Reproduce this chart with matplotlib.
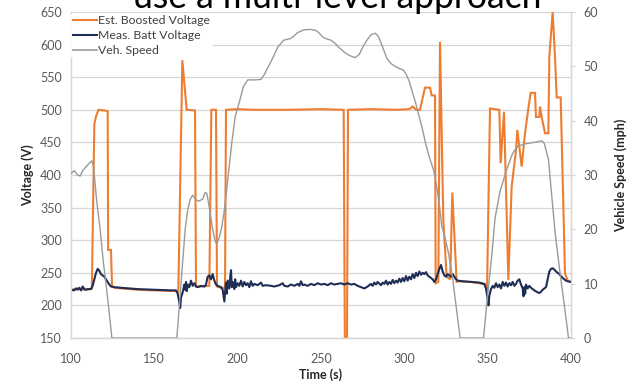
import matplotlib
matplotlib.use("Agg")
import matplotlib.pyplot as plt
from matplotlib.lines import Line2D

plt.rcParams['font.family'] = ['Lato', 'DejaVu Sans']

# ---------------- data ----------------
boost_t = [100, 104, 108, 111.5, 112.5, 114, 115, 116.5, 120, 122, 122.3, 124, 124.6, 126, 140, 150, 163,
           164.4, 166.8, 169.4, 174.4, 175, 178, 183, 184.2, 187, 187.6, 190, 192.4, 193, 200, 210, 230,
           250, 263.6, 264.3, 265.6, 266.2, 280, 295, 303, 305, 307, 309.4, 312.4, 315.4, 316.4, 318.4,
           318.8, 320.4, 321.4, 323.4, 325.4, 327.5, 328.8, 331.4, 333, 340, 345, 348.5, 349.6, 351.4,
           357, 357.8, 359.8, 362.4, 364.4, 367, 367.8, 370.4, 372.4, 374.4, 375.8, 378.4, 379, 381,
           381.4, 382.4, 384.4, 386.4, 387, 389, 390.4, 391.4, 393.8, 396.4, 398, 400]
boost_v = [224, 226, 224, 225, 226, 478, 490, 500, 499, 498, 285, 285, 230, 227, 224, 223, 222,
           221, 576, 500, 499, 229, 229, 230, 500, 500, 229, 227, 227, 500, 501, 500, 500,
           501, 500, 150, 150, 500, 501, 500, 501, 505, 500, 500, 534, 534, 522, 522,
           234, 236, 604, 330, 244, 240, 373, 236, 237, 236, 234, 232, 222, 502,
           500, 418, 497, 239, 382, 438, 469, 413, 464, 502, 526, 526, 489, 489,
           505, 489, 464, 464, 582, 650, 582, 519, 519, 249, 238, 236]

batt_t = [100, 102, 103, 104, 105, 106, 107, 108, 109, 110, 112, 113, 114, 115, 116, 117, 118, 119, 120,
          121, 122, 123, 124, 126, 130, 140, 150, 160, 163, 164, 165, 165.5, 166, 167, 168, 168.5, 169,
          169.5, 170, 171, 172, 173, 174, 175, 176, 178, 180, 181, 182, 183, 184, 185, 186, 187, 188,
          189, 190, 191, 191.5, 192, 192.5, 193, 193.5, 194, 195, 195.5, 196, 196.5, 197, 198, 198.5,
          199, 200, 201, 202, 203, 204, 205, 206, 207, 208, 209, 210, 212, 214, 215, 217, 220, 222,
          225, 227, 228, 230, 232, 234, 236, 237, 238, 239, 240, 242, 244, 246, 248, 250, 252, 254,
          256, 258, 260, 262, 264, 266, 268, 270, 272, 274, 276, 278, 280, 281, 282, 283, 284, 286,
          287, 288, 289, 290, 291, 292, 293, 294, 295, 296, 297, 298, 299, 300, 301, 302, 303, 304,
          305, 306, 307, 308, 309, 310, 311, 312, 313, 314, 315, 316, 317, 318, 319, 320, 321, 322,
          323, 324, 325, 326, 327, 328, 329, 330, 331, 332, 335, 340, 345, 348, 349, 350, 350.5, 351,
          352, 353, 354, 355, 356, 357, 358, 359, 360, 361, 362, 363, 364, 365, 366, 367, 368, 369,
          370, 371, 371.5, 372, 372.5, 373, 374, 375, 376, 377, 378, 380, 381, 382, 383, 384, 385,
          386, 387, 388, 389, 390, 391, 392, 393, 394, 395, 396, 397, 398, 400]
batt_v = [224, 223, 226, 224, 227, 223, 229, 225, 224, 225, 225, 230, 240, 250, 256, 253, 248, 246, 244,
          240, 236, 232, 229, 228, 227, 225, 224, 223, 223, 218, 205, 196, 212, 220, 232, 224, 236,
          222, 232, 228, 238, 230, 234, 229, 228, 230, 229, 232, 244, 246, 240, 248, 238, 232, 230,
          229, 228, 224, 215, 206, 222, 235, 218, 238, 226, 243, 254, 228, 236, 225, 240,
          228, 234, 230, 238, 229, 236, 231, 234, 228, 237, 230, 233, 231, 235, 230, 231, 230, 229,
          231, 234, 230, 229, 232, 230, 233, 230, 237, 231, 232, 230, 233, 231, 234, 232, 233, 231,
          234, 232, 233, 234, 232, 234, 232, 233, 230, 228, 226, 229, 233, 230, 235, 232, 236, 231,
          235, 233, 238, 232, 236, 233, 239, 234, 238, 235, 241, 236, 242, 237, 245, 238, 244, 240,
          248, 242, 250, 245, 252, 247, 250, 248, 251, 246, 244, 242, 240, 236, 240, 248, 256, 262,
          252, 246, 244, 248, 246, 244, 248, 244, 240, 238, 237, 236, 235, 233, 226, 210, 200, 215,
          225, 230, 227, 234, 228, 232, 226, 236, 230, 235, 229, 234, 231, 236, 230, 233, 238, 240,
          232, 226, 214, 228, 218, 232, 226, 230, 227, 225, 223, 220, 219, 221, 224, 226, 228,
          240, 252, 256, 257, 255, 252, 250, 248, 245, 242, 240, 238, 237, 236]

speed_t = [100, 102, 104, 105.5, 107, 109, 111, 112.5, 113.5, 115.5, 117.5, 119.4, 121, 123, 124.5,
           163.5, 165, 167, 168.5, 170, 171.5, 173, 175, 177, 179, 180.5, 181.5, 183, 185, 186.5,
           187.5, 189, 190.5, 192, 194, 196.5, 198.5, 201.5, 203.5, 206, 210, 214, 216, 218.5, 221,
           224, 227.5, 231.5, 233, 236, 239.5, 243.5, 247, 249, 251, 253, 256, 258.5, 261, 264, 267,
           270.5, 273, 275, 277.5, 280, 282.5, 284.5, 287, 289.5, 292, 294.5, 297, 299.5, 301, 303,
           304.5, 307, 310.5, 313, 315.5, 317.5, 319.5, 321, 322.5, 324, 326.5, 329, 331, 333.5,
           347.5, 350, 352.4, 354.4, 357.4, 361.4, 365, 368, 370, 373.5, 378, 382.5, 384, 386.5,
           388.5, 390.5, 393, 396, 398.5, 400]
speed_v = [30.3, 30.8, 30.0, 29.8, 30.8, 31.5, 32.2, 32.6, 31.5, 25, 20, 14, 10, 4.5, 0,
           0, 6, 14, 20, 23.5, 25.5, 26.3, 25.4, 25.2, 25.6, 26.8, 26.6, 24, 20, 17.8,
           17.4, 18.5, 20.5, 23.5, 29, 36, 40.7, 44, 46.3, 47.5, 47.5, 47.6, 48.5, 50, 51.5,
           53.5, 54.8, 55.1, 55.4, 56.2, 56.7, 56.8, 56.6, 56.1, 55.4, 55.1, 54.8, 54.2, 53.4, 52.6, 52.0,
           51.6, 52.2, 53.5, 54.8, 55.8, 56.1, 55.5, 53.5, 51.5, 50.5, 50, 49.6, 49.3, 48.6, 47.2,
           45.6, 43, 38.9, 35.5, 32.8, 31.0, 27.8, 24.5, 20.5, 19, 15.6, 11, 6, 0,
           0, 8, 15, 22, 27, 31, 34, 35.3, 35.5, 35.8, 36.0, 36.3, 35.8, 32.8,
           26, 19.3, 13, 6, 0, 0]

x_ticks = [100, 150, 200, 250, 300, 350, 400]
v_ticks = [150, 200, 250, 300, 350, 400, 450, 500, 550, 600, 650]
s_ticks = [0, 10, 20, 30, 40, 50, 60]

# ---------------- style ----------------
C_BOOST = '#ED7D31'
C_BATT = '#1F2E55'
C_SPEED = '#9A9A9A'
C_GRID = '#D6D6D6'
C_TICK = '#595959'

W, H = 628, 385
fig = plt.figure(figsize=(W / 100, H / 100), dpi=100)
ax = fig.add_axes([71 / W, 1 - 338 / H, 500 / W, 326 / H])
ax2 = ax.twinx()

ax.plot(boost_t, boost_v, color=C_BOOST, lw=1.5, zorder=2, solid_joinstyle='miter')
ax.plot(batt_t, batt_v, color=C_BATT, lw=1.5, zorder=3)
ax2.plot(speed_t, speed_v, color=C_SPEED, lw=1.0, zorder=3)

ax.set_xlim(100, 400)
ax.set_ylim(150, 650)
ax2.set_ylim(0, 60)
ax.set_xticks(x_ticks)
ax.set_yticks(v_ticks)
ax2.set_yticks(s_ticks)

ax.yaxis.grid(True, color=C_GRID, lw=0.9)
ax.set_axisbelow(True)
for a in (ax, ax2):
    a.spines['top'].set_visible(False)
    for side in ('left', 'right', 'bottom'):
        a.spines[side].set_color(C_GRID)
        a.spines[side].set_linewidth(0.9)

ax.tick_params(axis='y', length=0, pad=6.5, labelsize=9, labelcolor=C_TICK)
ax.tick_params(axis='x', length=0, pad=11, labelsize=9, labelcolor=C_TICK)
ax2.tick_params(axis='y', length=3, width=0.9, color=C_GRID, pad=6, labelsize=9, labelcolor=C_TICK)

ax.set_xlabel('Time (s)', fontsize=9, fontweight='bold', labelpad=2, color='#262626')
ax.set_ylabel('Voltage (V)', fontsize=9, fontweight='bold', labelpad=4, color='#262626')
ax2.set_ylabel('Vehicle Speed (mph)', fontsize=9, fontweight='bold', labelpad=12, color='#262626')

handles = [Line2D([], [], color=C_BOOST, lw=1.5),
           Line2D([], [], color=C_BATT, lw=1.5),
           Line2D([], [], color=C_SPEED, lw=1.2)]
labels = ['Est. Boosted Voltage', 'Meas. Batt Voltage', 'Veh. Speed']
leg = ax2.legend(handles, labels, loc='upper left', bbox_to_anchor=(0.0, 0.998),
                 fontsize=8.8, frameon=True, facecolor='white', edgecolor='none', framealpha=1,
                 handlelength=1.9, handletextpad=0.15, labelspacing=0.32, borderpad=0.2,
                 borderaxespad=0.0)
for t in leg.get_texts():
    t.set_color('#404040')

title = fig.text(337 / W, 1 - 8 / H, 'use a multi-level approach', ha='center', va='baseline',
                 fontsize=25.6, color='black')

fig.savefig('out.png', dpi=100)
